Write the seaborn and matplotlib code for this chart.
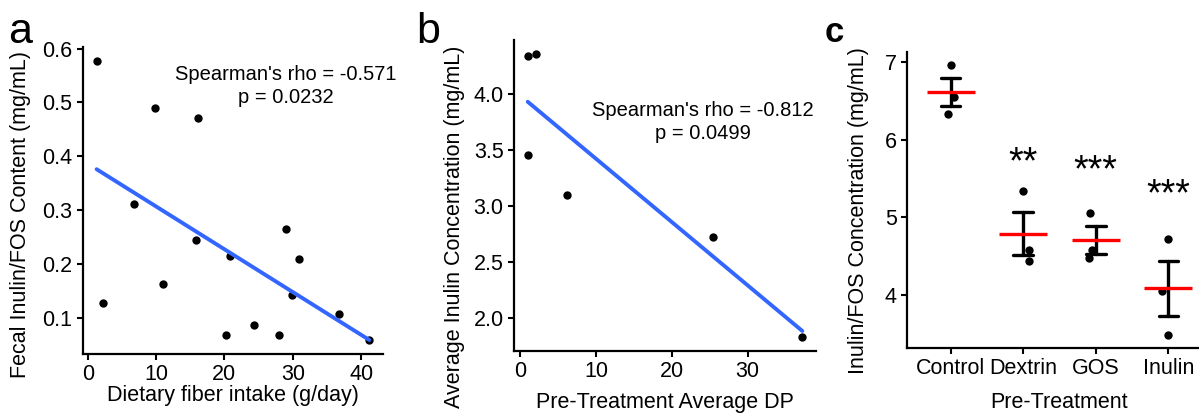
import numpy as np
import pandas as pd
import seaborn as sns
import matplotlib.pyplot as plt

# dados
fibra_g_dia = [1.3, 2.3, 6.75, 9.8, 11.0, 15.8, 16.1, 20.2, 20.8, 24.4, 28.0, 29.0, 29.9, 30.9, 36.7, 41.2]
inulina_fecal = [0.577, 0.128, 0.311, 0.490, 0.163, 0.245, 0.471, 0.068, 0.215, 0.086, 0.069, 0.266, 0.143, 0.209, 0.107, 0.059]

dp_medio = [1.0, 2.1, 1.0, 6.2, 25.4, 37.2]
inulina_media = [4.334, 4.352, 3.453, 3.10, 2.722, 1.834]

tratamentos = ["Control", "Dextrin", "GOS", "Inulin"]
conc_control = [6.957, 6.55, 6.338]
conc_dextrin = [5.346, 4.581, 4.444]
conc_gos = [5.06, 4.577, 4.483]
conc_inulin = [4.718, 4.047, 3.491]
estrelas = ["", "**", "***", "***"]

texto_a = ["Spearman's rho = -0.571", "p = 0.0232"]
texto_b = ["Spearman's rho = -0.812", "p = 0.0499"]

df_a = pd.DataFrame({"x": fibra_g_dia, "y": inulina_fecal})
df_b = pd.DataFrame({"x": dp_medio, "y": inulina_media})
df_c = pd.DataFrame({
    "trat": np.repeat(tratamentos, 3),
    "conc": conc_control + conc_dextrin + conc_gos + conc_inulin,
})

# 1. estilo
sns.set_theme(style="ticks")
plt.rcParams["font.family"] = ["Liberation Sans", "DejaVu Sans"]
plt.rcParams.update({
    "axes.linewidth": 1.6,
    "xtick.major.width": 1.5, "ytick.major.width": 1.5,
    "xtick.major.size": 4, "ytick.major.size": 4,
    "xtick.labelsize": 15.5, "ytick.labelsize": 15.5,
    "axes.labelsize": 15.5,
    "xtick.color": "black", "ytick.color": "black",
    "axes.edgecolor": "black", "text.color": "black", "axes.labelcolor": "black",
})

AZUL = "#3366FF"


def limites(v, frac=0.05):
    v = np.asarray(v)
    r = v.max() - v.min()
    return v.min() - frac * r, v.max() + frac * r


def painel_reg(ax, df, textos, pos_txt):
    sns.regplot(data=df, x="x", y="y", ax=ax, ci=None, truncate=True,
                scatter_kws=dict(color="black", s=36, linewidths=0, alpha=1),
                line_kws=dict(color=AZUL, lw=2.8))
    ax.set_xlim(*limites(df["x"]))
    ax.set_ylim(*limites(df["y"]))
    ax.text(pos_txt[0], pos_txt[1], textos[0] + "\n" + textos[1], ha="center", va="center",
            fontsize=14.5, linespacing=1.25)
    sns.despine(ax=ax)


fig = plt.figure(figsize=(11.99, 4.13), dpi=100)

# painel a
ax_a = fig.add_axes([0.0692, 0.1429, 0.2502, 0.7433])
painel_reg(ax_a, df_a, texto_a, (29.0, 0.53))
ax_a.set_xticks([0, 10, 20, 30, 40])
ax_a.set_yticks([0.1, 0.2, 0.3, 0.4, 0.5, 0.6])
ax_a.set_xlabel("Dietary fiber intake (g/day)", labelpad=0)
ax_a.set_ylabel("Fecal Inulin/FOS Content (mg/mL)", labelpad=8)
ax_a.yaxis.label.set_y(0.455)

# painel b
ax_b = fig.add_axes([0.4287, 0.1501, 0.2519, 0.7530])
painel_reg(ax_b, df_b, texto_b, (24.1, 3.75))
ax_b.set_xticks([0, 10, 20, 30])
ax_b.set_yticks([2.0, 2.5, 3.0, 3.5, 4.0])
ax_b.yaxis.set_major_formatter(plt.FormatStrFormatter("%.1f"))
ax_b.set_xlabel("Pre-Treatment Average DP", labelpad=7)
ax_b.set_ylabel("Average Inulin Concentration (mg/mL)", labelpad=6)
ax_b.yaxis.label.set_y(0.40)

# painel c
ax_c = fig.add_axes([0.7565, 0.1574, 0.2543, 0.7167])
np.random.seed(3)
sns.stripplot(data=df_c, x="trat", y="conc", order=tratamentos, color="black",
              size=6, jitter=0.1, ax=ax_c, zorder=2)
sns.pointplot(data=df_c, x="trat", y="conc", order=tratamentos, errorbar="se",
              color="black", linestyle="none", marker="", capsize=0.27,
              err_kws=dict(linewidth=2.4), ax=ax_c)
sns.pointplot(data=df_c, x="trat", y="conc", order=tratamentos, errorbar=None,
              color="red", linestyle="none", marker="_", markersize=34,
              markeredgewidth=2.4, ax=ax_c)
ax_c.set_xlim(-0.6, 3.6)
ax_c.set_ylim(*limites(df_c["conc"]))
ax_c.set_yticks([4, 5, 6, 7])
ax_c.set_xlabel("Pre-Treatment", labelpad=9)
ax_c.set_ylabel("Inulin/FOS Concentration (mg/mL)", labelpad=11)
ax_c.yaxis.label.set_y(0.463)
y_estrela = {"Dextrin": 5.70, "GOS": 5.59, "Inulin": 5.29}
for i, (t, s) in enumerate(zip(tratamentos, estrelas)):
    if s:
        ax_c.text(i, y_estrela[t], s, ha="center", va="center", fontsize=27)
sns.despine(ax=ax_c)

# letras dos painéis
fig.text(0.007, 0.896, "a", fontsize=31, va="baseline")
fig.text(0.347, 0.896, "b", fontsize=31, va="baseline")
fig.text(0.688, 0.898, "c", fontsize=25, fontweight="bold", va="baseline")

fig.savefig("out.png", dpi=100)
